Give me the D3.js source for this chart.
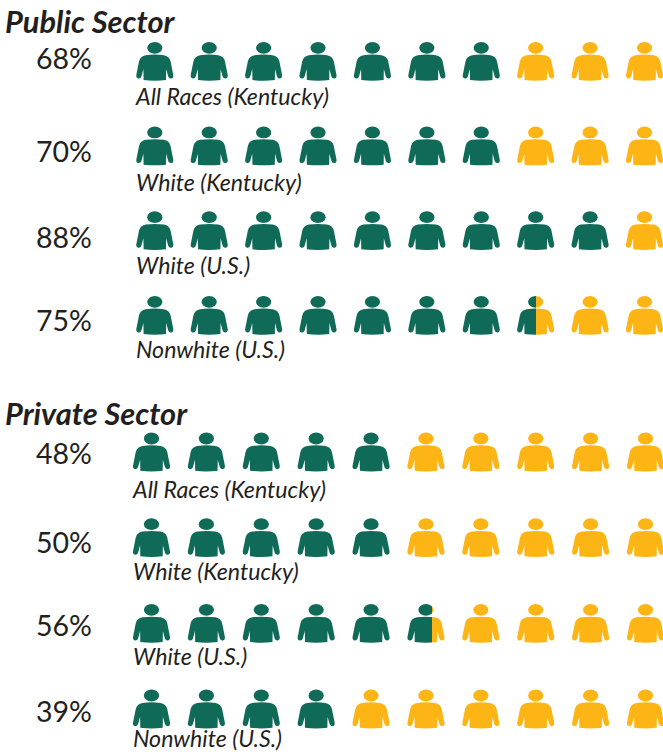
<!DOCTYPE html>
<html>
<head>
<meta charset="utf-8">
<script src="https://cdn.jsdelivr.net/npm/d3@7"></script>
<style>
  html, body { margin: 0; padding: 0; background: #fff; }
  svg { display: block; }
  text { font-family: Lato, "Open Sans", sans-serif; fill: #231f20; }
</style>
</head>
<body>
<svg id="chart"></svg>
<script>
// values
var publicGroups = ["All Races (Kentucky)", "White (Kentucky)", "White (U.S.)", "Nonwhite (U.S.)"];
var publicPercent = [68, 70, 88, 75];
var publicGreenIcons = [7, 7, 9, 7.5];

var privateGroups = ["All Races (Kentucky)", "White (Kentucky)", "White (U.S.)", "Nonwhite (U.S.)"];
var privatePercent = [48, 50, 56, 39];
var privateGreenIcons = [5, 5, 5.65, 4];

var iconCount = 10;
var green = "#0f6b57", gold = "#fdb515";

var width = 663, height = 752;
var svg = d3.select("#chart").attr("width", width).attr("height", height);
var defs = svg.append("defs");

// one person, x centred on 0, y from the top of the head
var bodyPath = "M-9,13.2 Q0,12 9,13.2 Q14.5,14 15.8,19.5 L18.5,33 Q18.9,36 16.6,36.4 Q14.2,36.8 13.4,34.4 L11.4,27 " +
    "L11.2,38 Q0,39.4 -11.2,38 L-11.4,27 L-13.4,34.4 Q-14.2,36.8 -16.6,36.4 Q-18.9,36 -18.5,33 L-15.8,19.5 Q-14.5,14 -9,13.2 Z";

function drawIcon(g, fill) {
    g.append("ellipse").attr("cx", 0).attr("cy", 5.8).attr("rx", 7.6).attr("ry", 5.9).attr("fill", fill);
    g.append("path").attr("d", bodyPath).attr("fill", fill);
}

/**
 * Draws one sector block
 * opts holds the layout of the block, the rest comes from the data arrays
 */
function drawPanel(title, groups, percent, greenIcons, opts) {
    svg.append("text")
        .attr("x", opts.titleX)
        .attr("y", opts.titleY)
        .attr("font-size", 30.8)
        .attr("font-weight", "bold")
        .attr("font-style", "italic")
        .text(title);

    var x = d3.scaleLinear().domain([0, iconCount - 1]).range(opts.xRange);
    var y = d3.scalePoint().domain(groups.map(function(d, i) { return i; })).range(opts.yRange);

    groups.forEach(function(name, row) {
        var top = y(row);

        svg.append("text")
            .attr("x", opts.percentX)
            .attr("y", opts.percentY[row])
            .attr("font-size", 28.5)
            .text(percent[row] + "%");

        svg.append("text")
            .attr("x", opts.labelX)
            .attr("y", opts.labelY[row])
            .attr("font-size", 23.2)
            .attr("font-style", "italic")
            .text(name);

        d3.range(iconCount).forEach(function(i) {
            var g = svg.append("g").attr("transform", "translate(" + x(i) + "," + top + ")");
            var share = Math.max(0, Math.min(1, greenIcons[row] - i));
            var fill = share === 1 ? green : gold;
            if (share > 0 && share < 1) {
                //partial icon gets a hard stop gradient
                var id = "split-" + opts.id + "-" + row;
                var grad = defs.append("linearGradient")
                    .attr("id", id)
                    .attr("gradientUnits", "userSpaceOnUse")
                    .attr("x1", -19).attr("x2", 19).attr("y1", 0).attr("y2", 0);
                grad.append("stop").attr("offset", share).attr("stop-color", green);
                grad.append("stop").attr("offset", share).attr("stop-color", gold);
                fill = "url(#" + id + ")";
            }
            drawIcon(g, fill);
        });
    });
}

drawPanel("Public Sector", publicGroups, publicPercent, publicGreenIcons, {
    id: "public",
    titleX: 5, titleY: 33,
    xRange: [154.8, 644.5], yRange: [42, 296],
    percentX: 36, percentY: [69, 162, 248, 331],
    labelX: 136, labelY: [105, 191, 274, 358]
});

drawPanel("Private Sector", privateGroups, privatePercent, privateGreenIcons, {
    id: "private",
    titleX: 5, titleY: 425,
    xRange: [151.5, 645.5], yRange: [432.7, 689.7],
    percentX: 36, percentY: [464, 553, 636, 722],
    labelX: 133, labelY: [498, 580, 665, 746.5]
});
</script>
</body>
</html>
